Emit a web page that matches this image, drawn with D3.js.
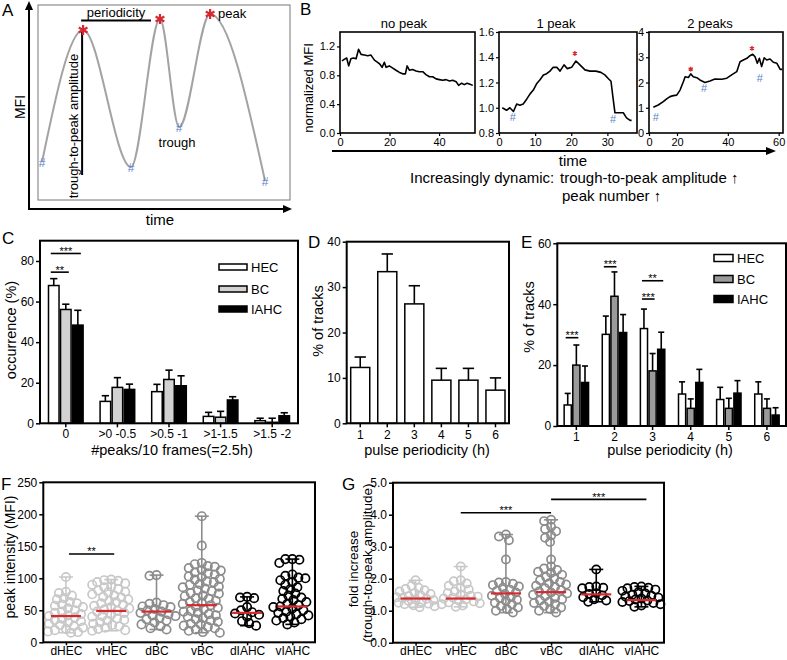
<!DOCTYPE html>
<html><head><meta charset="utf-8">
<script src="https://cdn.jsdelivr.net/npm/d3@7"></script>
<style>
body{margin:0;background:#fff}
svg{display:block}
text{font-family:"Liberation Sans",Arial,sans-serif;fill:#000}
</style>
</head><body>
<script>
// ================= DATA =================
// Panel A (schematic trace, arbitrary units 0-100)
const schemTime = [1.6, 17.9, 36.9, 48.4, 56.0, 68.3, 90.1];
const schemMFI  = [19.5, 87.2, 16.9, 92.8, 37.4, 95.4, 9.7];
const schemPeaks = [1, 3, 5];
const schemTroughs = [0, 2, 4, 6];

// Panel B traces
const noPeakT = [0.8,1.7,2.7,3.5,4.4,5.4,6.5,7.5,8.5,9.8,11.2,12.5,13.9,15.2,16.2,17.0,17.9,18.6,19.9,21.3,22.6,24.0,25.3,26.4,27.1,28.0,29.3,30.7,32.0,33.4,34.7,36.1,37.4,38.8,40.1,41.5,42.8,44.2,45.5,46.9,47.9,49.1,50.2,51.3,52.2,53.6];
const noPeakV = [1.00,1.02,1.04,0.93,1.03,1.04,1.03,1.16,1.09,1.08,1.07,1.08,1.01,0.98,0.95,0.91,0.98,0.91,0.93,0.90,0.87,0.84,0.82,0.82,0.93,0.87,0.88,0.86,0.85,0.85,0.81,0.78,0.78,0.75,0.74,0.73,0.74,0.72,0.73,0.71,0.66,0.69,0.67,0.69,0.68,0.66];
const onePeakT = [0.9,2.1,3.0,4.0,4.9,5.8,6.7,7.7,8.6,9.5,10.4,11.3,12.3,13.2,14.1,15.0,16.0,16.9,18.0,18.9,20.1,21.3,22.4,23.8,25.2,26.8,28.2,29.3,30.3,31.0,31.6,32.1,33.5,34.4,35.3,36.3,36.7];
const onePeakV = [1.00,0.98,1.00,0.97,1.03,1.02,1.03,1.07,1.11,1.14,1.19,1.22,1.26,1.27,1.29,1.32,1.32,1.29,1.34,1.31,1.32,1.37,1.34,1.30,1.29,1.29,1.28,1.26,1.23,1.21,1.07,0.96,0.96,0.96,0.92,0.90,0.90];
const twoPeakT = [3.1,6.6,10.2,12.6,15.0,17.4,19.8,21.2,22.5,23.2,24.5,25.4,26.4,27.8,29.0,31.0,33.0,34.9,37.6,39.6,41.5,43.5,44.8,46.1,47.5,48.7,49.8,50.7,51.6,52.4,53.3,54.3,55.3,56.6,57.9,59.3,60.6,61.4];
const twoPeakV = [1.02,1.11,1.24,1.35,1.44,1.48,1.50,1.70,2.03,2.23,2.20,2.34,2.23,2.19,2.10,2.00,2.06,2.14,2.13,2.17,2.30,2.43,2.82,2.89,2.96,3.06,3.12,3.02,2.76,2.96,2.63,2.98,2.89,2.93,2.80,2.76,2.52,2.52];
const onePeakPeaks = [[21.0, 1.43]];
const onePeakTroughs = [[3.8, 0.93], [31.6, 0.91]];
const twoPeakPeaks = [[25.4, 2.53], [49.5, 3.35]];
const twoPeakTroughs = [[4.8, 0.65], [30.6, 1.77], [52.6, 2.17]];

// Panel C
const peakBins = ["0", ">0 -0.5", ">0.5 -1", ">1-1.5", ">1.5 -2"];
const cellTypes = ["HEC", "BC", "IAHC"];
const cHEC = [67.9, 10.8, 15.6, 3.4, 1.3];
const cHECerr = [3.4, 2.8, 3.6, 2.0, 1.2];
const cBC = [56.1, 17.7, 21.6, 3.0, 0.5];
const cBCerr = [2.6, 4.8, 4.6, 2.9, 2.0];
const cIAHC = [48.4, 16.7, 18.5, 11.5, 3.7];
const cIAHCerr = [7.3, 2.6, 4.9, 1.6, 1.5];
const cSig = [{bin:"0", a:"HEC", b:"IAHC", v:83.7, label:"***"}, {bin:"0", a:"HEC", b:"BC", v:74.5, label:"**"}];

// Panel D
const periodHours = ["1", "2", "3", "4", "5", "6"];
const dTracks = [12.3, 33.4, 26.3, 9.5, 9.5, 7.3];
const dTracksErr = [2.3, 3.9, 4.0, 2.6, 2.6, 2.7];

// Panel E
const eHEC = [6.9, 30.1, 32.0, 10.5, 8.7, 10.5];
const eHECerr = [3.8, 6.0, 6.4, 4.0, 4.0, 4.0];
const eBC = [20.0, 42.6, 18.1, 5.8, 5.8, 5.8];
const eBCerr = [6.6, 8.0, 5.7, 3.1, 3.3, 3.1];
const eIAHC = [14.3, 30.7, 25.2, 14.3, 10.8, 3.6];
const eIAHCerr = [5.4, 5.9, 5.6, 4.3, 4.1, 2.4];
const eSig = [{bin:"1", a:"HEC", b:"BC", v:29, label:"***"}, {bin:"2", a:"HEC", b:"BC", v:52.3, label:"***"},
              {bin:"3", a:"HEC", b:"BC", v:41.7, label:"***"}, {bin:"3", a:"HEC", b:"IAHC", v:47.7, label:"**"}];

// Panels F & G
const groups = ["dHEC", "vHEC", "dBC", "vBC", "dIAHC", "vIAHC"];
const fPeak = [
  [102, 79, 77, 73, 69, 67, 63, 61, 59, 57, 55, 53, 50, 48, 46, 44, 42, 41, 39, 37, 35, 33, 31, 29, 27, 25, 23, 21, 19, 17, 16, 15],
  [98, 97, 96, 94, 92, 90, 87, 86, 83, 81, 79, 78, 75, 73, 71, 70, 67, 65, 63, 61, 59, 57, 55, 53, 51, 49, 48, 46, 43, 41, 40, 37, 35, 34, 31, 29, 27, 25, 23, 21, 19, 18],
  [105, 104, 62, 60, 58, 56, 55, 52, 50, 48, 46, 44, 42, 41, 38, 36, 34, 31, 28, 25, 22, 20],
  [197, 151, 124, 122, 119, 118, 116, 113, 112, 109, 108, 106, 103, 102, 99, 98, 95, 94, 91, 90, 87, 86, 84, 81, 80, 77, 76, 73, 72, 69, 68, 65, 63, 62, 60, 58, 56, 54, 52, 49, 48, 46, 44, 42, 40, 38, 36, 34, 32, 29, 28, 26, 24, 22, 20, 18, 16, 15],
  [71, 70, 69, 55, 50, 47, 45, 43, 40, 33, 30, 26],
  [130, 130, 129, 124, 106, 104, 101, 100, 97, 94, 90, 86, 83, 80, 76, 73, 70, 68, 66, 63, 60, 58, 56, 55, 53, 50, 48, 46, 44, 42, 40, 38, 36, 34, 31, 28]
];
const fMedian = [41, 49, 48, 58, 46, 56];
const fSig = [{a:"dHEC", b:"vHEC", v:138, label:"**"}];
const gFold = [
  [1.95, 1.78, 1.72, 1.68, 1.64, 1.6, 1.55, 1.52, 1.48, 1.45, 1.42, 1.4, 1.37, 1.35, 1.33, 1.3, 1.27, 1.25, 1.22, 1.2, 1.17, 1.14, 1.11],
  [2.38, 1.95, 1.92, 1.85, 1.78, 1.72, 1.66, 1.6, 1.55, 1.5, 1.47, 1.44, 1.41, 1.38, 1.35, 1.32, 1.29, 1.26, 1.23, 1.2, 1.16, 1.12],
  [3.38, 3.32, 3.2, 2.6, 1.9, 1.88, 1.84, 1.8, 1.76, 1.72, 1.66, 1.62, 1.57, 1.52, 1.47, 1.43, 1.39, 1.34, 1.3, 1.25, 1.2, 1.15, 1.1, 1.05, 1.0, 0.94],
  [3.84, 3.8, 3.62, 3.55, 3.48, 3.35, 3.28, 3.15, 2.6, 2.38, 2.32, 2.27, 2.22, 2.18, 2.12, 2.05, 2.0, 1.95, 1.9, 1.86, 1.82, 1.78, 1.74, 1.7, 1.65, 1.6, 1.57, 1.54, 1.5, 1.45, 1.4, 1.36, 1.32, 1.28, 1.24, 1.2, 1.15, 1.1, 1.05, 1.0, 0.94],
  [2.29, 1.76, 1.74, 1.72, 1.7, 1.55, 1.52, 1.48, 1.42, 1.36, 1.32, 1.28],
  [1.76, 1.74, 1.72, 1.7, 1.66, 1.62, 1.58, 1.54, 1.5, 1.47, 1.44, 1.41, 1.38, 1.35, 1.32, 1.3, 1.27, 1.24, 1.2, 1.16, 1.12]
];
const gMedian = [1.38, 1.38, 1.54, 1.58, 1.51, 1.33];
const gSig = [{a:"vHEC", b:"vBC", v:4.06, label:"***"}, {a:"vBC", b:"vIAHC", v:4.48, label:"***"}];

// ================= DRAWING =================
const svg = d3.select("body").append("svg").attr("width", 787).attr("height", 660);
const RED = "#d7282f", BLUE = "#5b84c8";
const groupColor = ["#c8c8c8", "#c8c8c8", "#8c8c8c", "#8c8c8c", "#000", "#000"];

function txt(g, x, y, s, o = {}) {
  const t = g.append("text").attr("x", x).attr("y", y).text(s)
    .attr("font-size", o.fs || 12).attr("text-anchor", o.anchor || "start");
  if (o.fill) t.style("fill", o.fill);
  if (o.rot) t.attr("transform", `rotate(${o.rot},${x},${y})`);
  if (o.db) t.attr("dominant-baseline", o.db);
  return t;
}
function frame(g, x0, y0, x1, y1, sw, col = "#000") {
  g.append("rect").attr("x", x0).attr("y", y0).attr("width", x1 - x0).attr("height", y1 - y0)
    .attr("fill", "none").attr("stroke", col).attr("stroke-width", sw);
}
function arrow(g, x1, y1, x2, y2, hl = 9, hw = 4) {
  const dx = x2 - x1, dy = y2 - y1, L = Math.hypot(dx, dy), ux = dx / L, uy = dy / L;
  const bx = x2 - ux * hl, by = y2 - uy * hl;
  g.append("line").attr("x1", x1).attr("y1", y1).attr("x2", bx).attr("y2", by).attr("stroke", "#000").attr("stroke-width", 2);
  g.append("path").attr("d", `M${x2},${y2}L${bx - uy * hw},${by + ux * hw}L${bx + uy * hw},${by - ux * hw}Z`).attr("fill", "#000");
}
function styleAxis(g, fs, sw) {
  g.select(".domain").remove();
  g.selectAll(".tick line").attr("stroke", "#000").attr("stroke-width", sw);
  g.selectAll(".tick text").attr("font-size", fs).style("fill", "#000").attr("font-family", '"Liberation Sans",Arial,sans-serif');
}
function asterisk(g, x, y, size, sw, col) {
  g.append("path").attr("d", d3.symbol(d3.symbolAsterisk, size)()).attr("transform", `translate(${x},${y})`)
    .attr("fill", "none").attr("stroke", col).attr("stroke-width", sw);
}
function hash(g, x, y, fs) {
  txt(g, x, y, "#", {fs, anchor: "middle", fill: BLUE, db: "central"});
}
function panelLetter(x, y, s) { txt(svg, x, y, s, {fs: 17}); }

// ---------- Panel A ----------
{
  const g = svg.append("g");
  const xA = d3.scaleLinear().domain([0, 100]).range([38, 290]);
  const yA = d3.scaleLinear().domain([0, 100]).range([200, 5]);
  frame(g, 38, 5, 290, 200, 1, "#777");
  arrow(g, 29, 209, 29, 1);
  arrow(g, 28, 209, 292, 209);
  txt(g, 25, 107, "MFI", {fs: 14, anchor: "middle", rot: -90});
  txt(g, 160, 225, "time", {fs: 15, anchor: "middle"});
  const idx = d3.range(schemTime.length);
  g.append("path").datum(idx)
    .attr("d", d3.line().x(i => xA(schemTime[i])).y(i => yA(schemMFI[i])).curve(d3.curveMonotoneX))
    .attr("fill", "none").attr("stroke", "#a3a3a3").attr("stroke-width", 2);
  const px = xA(schemTime[schemPeaks[0]]) - 1;
  g.append("line").attr("x1", px).attr("x2", px).attr("y1", yA(schemMFI[schemPeaks[0]])).attr("y2", 175)
    .attr("stroke", "#000").attr("stroke-width", 2);
  txt(g, 78, 126, "trough-to-peak amplitude", {fs: 13, anchor: "middle", rot: -90});
  g.append("line").attr("x1", xA(schemTime[schemPeaks[0]]) - 2).attr("x2", xA(schemTime[schemPeaks[1]]) - 9)
    .attr("y1", 20.5).attr("y2", 20.5).attr("stroke", "#000").attr("stroke-width", 2);
  txt(g, 116, 16.5, "periodicity", {fs: 13, anchor: "middle"});
  schemPeaks.forEach(i => asterisk(g, xA(schemTime[i]), yA(schemMFI[i]), 70, 2.2, RED));
  schemTroughs.forEach(i => hash(g, xA(schemTime[i]), yA(schemMFI[i]) + 1, 12));
  txt(g, 218, 18, "peak", {fs: 13});
  txt(g, 177, 147, "trough", {fs: 13, anchor: "middle"});
  panelLetter(2, 16, "A");
}

// ---------- Panel B ----------
{
  const g = svg.append("g");
  panelLetter(300, 15, "B");
  const yTop = 32, yBot = 133;
  const panels = [
    {title: "no peak", tx: 404, x: d3.scaleLinear().domain([0, 54.5]).range([340, 475]),
     y: d3.scaleLinear().domain([0, 1.4]).range([yBot, yTop]), xt: [0, 20, 40], yt: [0, 0.4, 0.8, 1.2], yf: d3.format(".1f"),
     t: noPeakT, v: noPeakV, pk: [], tr: []},
    {title: "1 peak", tx: 556, x: d3.scaleLinear().domain([0, 38.2]).range([499, 637]),
     y: d3.scaleLinear().domain([0.8, 1.6]).range([yBot, yTop]), xt: [0, 10, 20, 30], yt: [0.8, 1.0, 1.2, 1.4, 1.6], yf: d3.format(".1f"),
     t: onePeakT, v: onePeakV, pk: onePeakPeaks, tr: onePeakTroughs},
    {title: "2 peaks", tx: 710, x: d3.scaleLinear().domain([0, 20, 61.7]).range([649, 677, 783]),
     y: d3.scaleLinear().domain([0, 4]).range([yBot, yTop]), xt: [0, 20, 40, 60], yt: [0, 1, 2, 3, 4], yf: d3.format("d"),
     t: twoPeakT, v: twoPeakV, pk: twoPeakPeaks, tr: twoPeakTroughs}
  ];
  panels.forEach(p => {
    const [x0, x1] = [p.x.range()[0], p.x.range()[p.x.range().length - 1]];
    const ga = g.append("g").attr("transform", `translate(0,${yBot})`)
      .call(d3.axisBottom(p.x).tickValues(p.xt).tickSize(3).tickPadding(2).tickFormat(d3.format("d")));
    styleAxis(ga, 11, 1.2);
    const gy = g.append("g").attr("transform", `translate(${x0},0)`)
      .call(d3.axisLeft(p.y).tickValues(p.yt).tickSize(3).tickPadding(2).tickFormat(p.yf));
    styleAxis(gy, 11, 1.2);
    const idx = d3.range(p.t.length);
    g.append("path").datum(idx).attr("d", d3.line().x(i => p.x(p.t[i])).y(i => p.y(p.v[i])))
      .attr("fill", "none").attr("stroke", "#000").attr("stroke-width", 1.6).attr("stroke-linejoin", "round");
    frame(g, x0, yTop, x1, yBot, 1.6);
    txt(g, p.tx, 28, p.title, {fs: 13, anchor: "middle"});
    p.pk.forEach(d => asterisk(g, p.x(d[0]), p.y(d[1]), 16, 1.3, RED));
    p.tr.forEach(d => hash(g, p.x(d[0]), p.y(d[1]), 11));
  });
  txt(g, 313, 88, "normalized MFI", {fs: 13, anchor: "middle", rot: -90});
  arrow(g, 332, 151, 776, 151, 10, 4);
  txt(g, 573, 166, "time", {fs: 15, anchor: "middle"});
  txt(g, 410, 183, "Increasingly dynamic:", {fs: 15});
  txt(g, 560, 183, "trough-to-peak amplitude \u2191", {fs: 15});
  txt(g, 562, 201, "peak number \u2191", {fs: 15});
}

// ---------- Grouped bar helper ----------
function drawBars(g, x, sub, y, series, fills, errs, capFrac) {
  series.forEach((vals, si) => {
    const name = sub ? sub.domain()[si] : null;
    vals.forEach((v, i) => {
      const bx = x(x.domain()[i]) + (sub ? sub(name) : 0);
      const bw = sub ? sub.bandwidth() : x.bandwidth();
      const top = y(v), base = y(0);
      const e = errs[si][i];
      const cx = bx + bw / 2, ey = y(v + e), cw = bw * capFrac / 2;
      g.append("line").attr("x1", cx).attr("x2", cx).attr("y1", top).attr("y2", ey).attr("stroke", "#000").attr("stroke-width", 1.6);
      g.append("line").attr("x1", cx - cw).attr("x2", cx + cw).attr("y1", ey).attr("y2", ey).attr("stroke", "#000").attr("stroke-width", 1.6);
      g.append("rect").attr("x", bx + 0.75).attr("y", top).attr("width", bw - 1.5).attr("height", Math.max(0, base - top))
        .attr("fill", fills[si]).attr("stroke", "#000").attr("stroke-width", 1.5);
    });
  });
}
function sigBar(g, x1, x2, yy, label) {
  g.append("line").attr("x1", x1).attr("x2", x2).attr("y1", yy).attr("y2", yy).attr("stroke", "#000").attr("stroke-width", 1.6);
  txt(g, (x1 + x2) / 2, yy + 1.5, label, {fs: 11, anchor: "middle"});
}
function legend(g, x, ys, w, h, fills, labels, fs) {
  labels.forEach((l, i) => {
    g.append("rect").attr("x", x).attr("y", ys[i] - h / 2).attr("width", w).attr("height", h)
      .attr("fill", fills[i]).attr("stroke", "#000").attr("stroke-width", 1.5);
    txt(g, x + w + 4, ys[i], l, {fs, db: "central"});
  });
}

// ---------- Panel C ----------
{
  const g = svg.append("g");
  panelLetter(2, 244, "C");
  const x = d3.scaleBand().domain(peakBins).range([40, 298]).paddingInner(0.3).paddingOuter(0.15);
  const sub = d3.scaleBand().domain(cellTypes).range([0, x.bandwidth()]);
  const y = d3.scaleLinear().domain([0, 90]).range([423.3, 240.7]);
  const fills = ["#fff", "#d2d2d2", "#000"];
  drawBars(g, x, sub, y, [cHEC, cBC, cIAHC], fills, [cHECerr, cBCerr, cIAHCerr], 0.6);
  const gx = g.append("g").attr("transform", "translate(0,423.3)").call(d3.axisBottom(x).tickSize(4).tickPadding(2));
  styleAxis(gx, 12, 1.5);
  const gy = g.append("g").attr("transform", "translate(40,0)").call(d3.axisLeft(y).tickValues([0, 20, 40, 60, 80]).tickSize(4).tickPadding(2));
  styleAxis(gy, 12, 1.5);
  frame(g, 40, 240.7, 298, 423.3, 2);
  cSig.forEach(s => {
    const xa = x(s.bin) + sub(s.a) + sub.bandwidth() / 2 - 3, xb = x(s.bin) + sub(s.b) + sub.bandwidth() / 2 + 3;
    sigBar(g, xa, xb, y(s.v), s.label);
  });
  legend(g, 219, [267, 289, 309], 28, 6, fills, cellTypes, 13);
  txt(g, 16, 330, "occurrence (%)", {fs: 14.5, anchor: "middle", rot: -90});
  txt(g, 172, 455, "#peaks/10 frames(=2.5h)", {fs: 14.5, anchor: "middle"});
}

// ---------- Panel D ----------
{
  const g = svg.append("g");
  panelLetter(308, 248, "D");
  const x = d3.scaleBand().domain(periodHours).range([346.7, 509]).paddingInner(0.24).paddingOuter(0.12);
  const y = d3.scaleLinear().domain([0, 40]).range([423.3, 241.7]);
  drawBars(g, x, null, y, [dTracks], ["#fff"], [dTracksErr], 0.55);
  const gx = g.append("g").attr("transform", "translate(0,423.3)").call(d3.axisBottom(x).tickSize(4).tickPadding(3));
  styleAxis(gx, 12, 1.5);
  const gy = g.append("g").attr("transform", "translate(346.7,0)").call(d3.axisLeft(y).tickValues([0, 10, 20, 30, 40]).tickSize(4).tickPadding(2));
  styleAxis(gy, 12, 1.5);
  frame(g, 346.7, 241.7, 509, 423.3, 2);
  txt(g, 323, 321, "% of tracks", {fs: 14.5, anchor: "middle", rot: -90});
  txt(g, 427, 455, "pulse periodicity (h)", {fs: 14.5, anchor: "middle"});
}

// ---------- Panel E ----------
{
  const g = svg.append("g");
  panelLetter(521, 248, "E");
  const x = d3.scaleBand().domain(periodHours).range([557.3, 786]).paddingInner(0.32).paddingOuter(0.16);
  const sub = d3.scaleBand().domain(cellTypes).range([0, x.bandwidth()]);
  const y = d3.scaleLinear().domain([0, 60]).range([426, 243.3]);
  const fills = ["#fff", "#9a9a9a", "#000"];
  drawBars(g, x, sub, y, [eHEC, eBC, eIAHC], fills, [eHECerr, eBCerr, eIAHCerr], 0.7);
  const gx = g.append("g").attr("transform", "translate(0,426)").call(d3.axisBottom(x).tickSize(4).tickPadding(2));
  styleAxis(gx, 12, 1.5);
  const gy = g.append("g").attr("transform", "translate(557.3,0)").call(d3.axisLeft(y).tickValues([0, 20, 40, 60]).tickSize(4).tickPadding(2));
  styleAxis(gy, 12, 1.5);
  frame(g, 557.3, 243.3, 786, 426, 2);
  eSig.forEach(s => {
    const xa = x(s.bin) + sub(s.a) + sub.bandwidth() / 2 - 2, xb = x(s.bin) + sub(s.b) + sub.bandwidth() / 2 + 2;
    sigBar(g, xa, xb, y(s.v), s.label);
  });
  legend(g, 714, [258, 279, 299], 19, 7, fills, cellTypes, 13);
  txt(g, 534, 317, "% of tracks", {fs: 14.5, anchor: "middle", rot: -90});
  txt(g, 670, 455, "pulse periodicity (h)", {fs: 14.5, anchor: "middle"});
}

// ---------- Swarm helper ----------
function swarm(vals, yScale, D, maxW) {
  const pts = vals.map(v => ({v, y: yScale(v)})).sort((a, b) => a.y - b.y);
  const placed = [];
  pts.forEach(p => {
    let best = 0, bestOv = Infinity;
    for (let k = 0; k <= maxW * 2; k++) {
      const off = (k % 2 === 0 ? 1 : -1) * Math.ceil(k / 2);
      let ov = 0;
      placed.forEach(q => {
        const d = Math.hypot(off - q.dx, p.y - q.y);
        if (d < D) ov += D - d;
      });
      if (ov === 0) { best = off; bestOv = 0; break; }
      if (ov < bestOv) { bestOv = ov; best = off; }
    }
    p.dx = best; placed.push(p);
  });
  return placed;
}
function scatterPanel(g, x, y, data, medians, r, D, maxW) {
  groups.forEach((name, gi) => {
    const cx = x(name), col = groupColor[gi];
    const [mn, mx] = d3.extent(data[gi]);
    g.append("line").attr("x1", cx).attr("x2", cx).attr("y1", y(mn)).attr("y2", y(mx)).attr("stroke", col).attr("stroke-width", 1.6);
    [mn, mx].forEach(v => g.append("line").attr("x1", cx - 7).attr("x2", cx + 7).attr("y1", y(v)).attr("y2", y(v)).attr("stroke", col).attr("stroke-width", 1.6));
    swarm(data[gi], y, D, maxW).forEach(p => {
      g.append("circle").attr("cx", cx + p.dx).attr("cy", p.y).attr("r", r)
        .attr("fill", "none").attr("stroke", col).attr("stroke-width", 1.7);
    });
    g.append("line").attr("x1", cx - 15).attr("x2", cx + 15).attr("y1", y(medians[gi])).attr("y2", y(medians[gi]))
      .attr("stroke", RED).attr("stroke-width", 2.2);
  });
}

// ---------- Panel F ----------
{
  const g = svg.append("g");
  panelLetter(1, 490, "F");
  const x = d3.scalePoint().domain(groups).range([43.3, 315]).padding(0.5);
  const y = d3.scaleLinear().domain([0, 250]).range([642.3, 482.3]);
  scatterPanel(g, x, y, fPeak, fMedian, 4.2, 6.6, 19);
  const gx = g.append("g").attr("transform", "translate(0,642.3)").call(d3.axisBottom(x).tickSize(3).tickPadding(1));
  styleAxis(gx, 12, 1.5);
  const gy = g.append("g").attr("transform", "translate(43.3,0)").call(d3.axisLeft(y).tickValues([0, 50, 100, 150, 200, 250]).tickSize(4).tickPadding(2));
  styleAxis(gy, 12, 1.5);
  frame(g, 43.3, 482.3, 315, 642.3, 2);
  fSig.forEach(s => sigBar(g, x(s.a) + 3, x(s.b) + 3, y(s.v), s.label));
  txt(g, 15, 557, "peak intensity (MFI)", {fs: 14, anchor: "middle", rot: -90});
}

// ---------- Panel G ----------
{
  const g = svg.append("g");
  panelLetter(342, 490, "G");
  const x = d3.scalePoint().domain(groups).range([393, 664]).padding(0.5);
  const y = d3.scaleLinear().domain([0, 5]).range([642.7, 482.7]);
  scatterPanel(g, x, y, gFold, gMedian, 4.1, 6.4, 19);
  const gx = g.append("g").attr("transform", "translate(0,642.7)").call(d3.axisBottom(x).tickSize(3).tickPadding(1));
  styleAxis(gx, 12, 1.5);
  const gy = g.append("g").attr("transform", "translate(393,0)").call(d3.axisLeft(y).tickValues([0, 1, 2, 3, 4, 5]).tickSize(4).tickPadding(2));
  styleAxis(gy, 12, 1.5);
  frame(g, 393, 482.7, 664, 642.7, 2);
  gSig.forEach((s, i) => sigBar(g, x(s.a), x(s.b) + (i === 1 ? 5 : 0), y(s.v), s.label));
  txt(g, 358, 569, "fold increase", {fs: 13.5, anchor: "middle", rot: -90});
  txt(g, 372, 563, "(trough-to-peak amplitude)", {fs: 13.5, anchor: "middle", rot: -90});
}
</script>
</body></html>
